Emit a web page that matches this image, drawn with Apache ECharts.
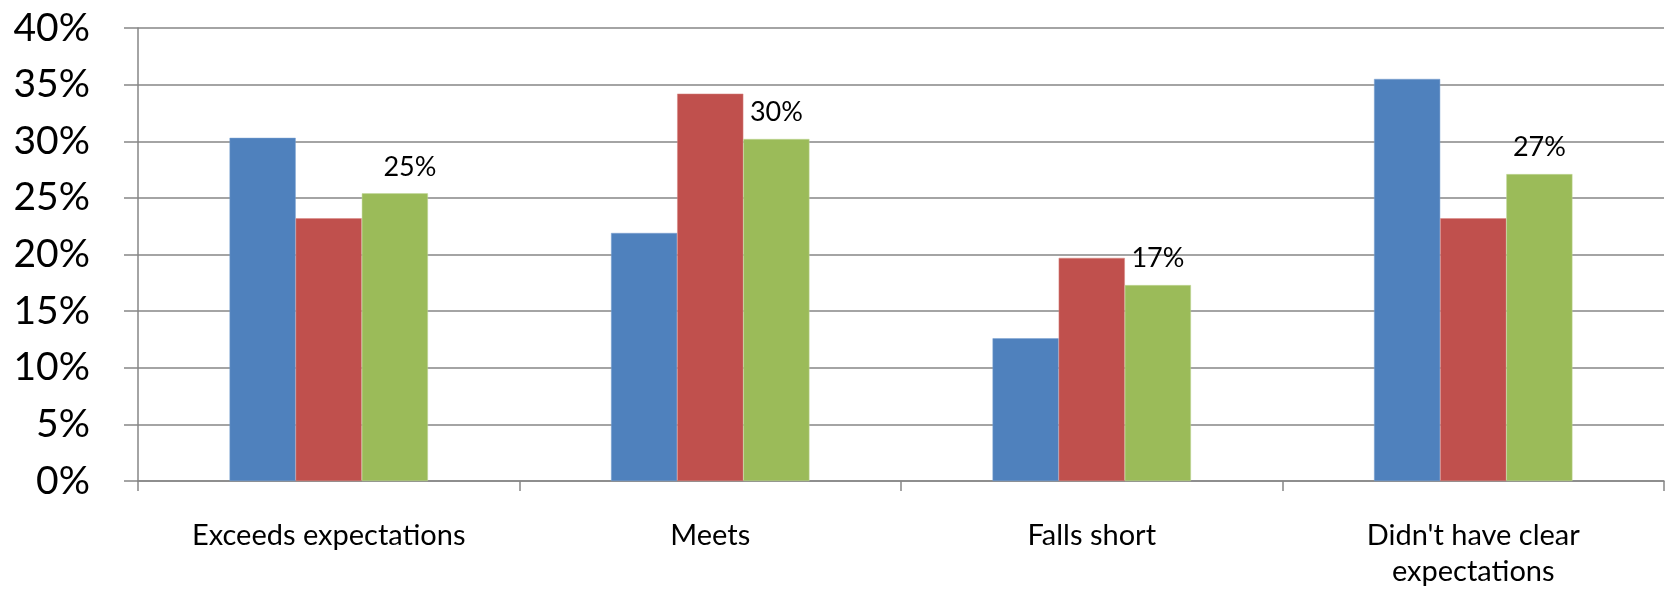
<!DOCTYPE html>
<html>
<head>
<meta charset="utf-8">
<script src="https://cdn.jsdelivr.net/npm/echarts@6/dist/echarts.min.js"></script>
<style>
  html, body { margin: 0; padding: 0; background: #fff; }
  #chart { width: 1670px; height: 590px; }
</style>
</head>
<body>
<div id="chart"></div>
<script>
// categories along the x axis
var categories = ['Exceeds expectations', 'Meets', 'Falls short', "Didn't have clear\nexpectations"]
// three series, values in percent
var blueValues = [30.3, 21.9, 12.6, 35.5]
var redValues = [23.2, 34.2, 19.7, 23.2]
var greenValues = [25.4, 30.2, 17.3, 27.1]
var gridColor = '#868686'
var fontFamily = 'Lato, "Noto Sans", sans-serif'

var chart = echarts.init(document.getElementById('chart'))

chart.setOption({
  animation: false,
  textStyle: { fontFamily: fontFamily },
  grid: {
    left: 138,
    right: 6,
    top: 28,
    bottom: 105,
    containLabel: false
  },
  xAxis: {
    type: 'category',
    data: categories,
    axisLine: { lineStyle: { color: gridColor, width: 1.5 } },
    axisTick: { show: true, length: 10, lineStyle: { color: gridColor, width: 1.5 } },
    axisLabel: {
      color: '#000',
      fontSize: 29,
      lineHeight: 36,
      margin: 37,
      interval: 0
    }
  },
  yAxis: {
    type: 'value',
    min: 0,
    max: 40,
    interval: 5,
    axisLine: { show: true, lineStyle: { color: gridColor, width: 1.5 } },
    axisTick: { show: true, length: 14, lineStyle: { color: gridColor, width: 1.5 } },
    splitLine: { show: true, lineStyle: { color: gridColor, width: 1.5 } },
    axisLabel: {
      color: '#000',
      fontSize: 39,
      margin: 48,
      formatter: '{value}%'
    }
  },
  series: [
    {
      name: 'blue',
      type: 'bar',
      data: blueValues,
      barGap: 0,
      barCategoryGap: '48%',
      itemStyle: { color: '#4F81BD', borderColor: '#7aa0d0', borderWidth: 0.5 }
    },
    {
      name: 'red',
      type: 'bar',
      data: redValues,
      itemStyle: { color: '#C0504D', borderColor: '#d98683', borderWidth: 0.5 }
    },
    {
      name: 'green',
      type: 'bar',
      // first label sits a little right of its bar in the original
      data: greenValues.map(function (v, i) {
        return i === 0 ? { value: v, label: { offset: [15, 0] } } : v
      }),
      itemStyle: { color: '#9BBB59', borderColor: '#c3d89a', borderWidth: 0.5 },
      label: {
        show: true,
        position: 'top',
        distance: 13,
        color: '#000',
        fontSize: 27,
        formatter: function (p) { return Math.round(p.value) + '%' }
      }
    }
  ]
})
</script>
</body>
</html>
